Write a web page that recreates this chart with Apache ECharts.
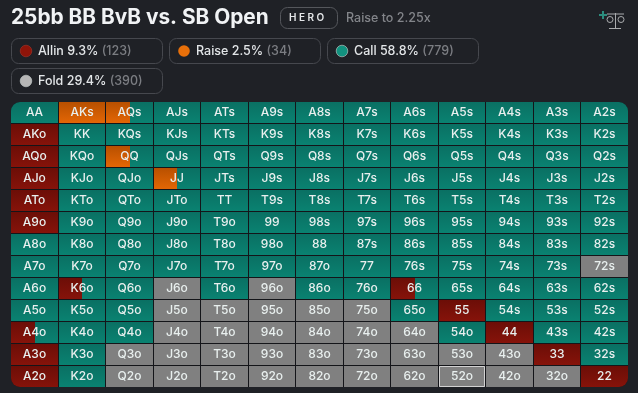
<!DOCTYPE html>
<html>
<head>
<meta charset="utf-8">
<style>
  html, body { margin: 0; padding: 0; background: #1f2126; }
  #chart { width: 638px; height: 393px; }
</style>
<script src="https://cdn.jsdelivr.net/npm/echarts@6/dist/echarts.min.js"></script>
</head>
<body>
<div id="chart"></div>
<script>
const ranks = ['A', 'K', 'Q', 'J', 'T', '9', '8', '7', '6', '5', '4', '3', '2'];

const actionNames = ['Allin', 'Raise', 'Call', 'Fold'];
const actionPct = ['9.3%', '2.5%', '58.8%', '29.4%'];
const actionCounts = ['(123)', '(34)', '(779)', '(390)'];

// share of each hand per action, rows and columns in rank order
const allinShare = [
  [0, 0, 0, 0, 0, 0, 0, 0, 0, 0, 0, 0, 0],
  [100, 0, 0, 0, 0, 0, 0, 0, 0, 0, 0, 0, 0],
  [100, 0, 0, 0, 0, 0, 0, 0, 0, 0, 0, 0, 0],
  [100, 0, 0, 0, 0, 0, 0, 0, 0, 0, 0, 0, 0],
  [100, 0, 0, 0, 0, 0, 0, 0, 0, 0, 0, 0, 0],
  [100, 0, 0, 0, 0, 0, 0, 0, 0, 0, 0, 0, 0],
  [0, 0, 0, 0, 0, 0, 0, 0, 0, 0, 0, 0, 0],
  [0, 0, 0, 0, 0, 0, 0, 0, 0, 0, 0, 0, 0],
  [0, 50, 0, 0, 0, 0, 0, 0, 50, 0, 0, 0, 0],
  [0, 0, 0, 0, 0, 0, 0, 0, 0, 100, 0, 0, 0],
  [50, 0, 0, 0, 0, 0, 0, 0, 0, 0, 100, 0, 0],
  [100, 0, 0, 0, 0, 0, 0, 0, 0, 0, 0, 100, 0],
  [100, 0, 0, 0, 0, 0, 0, 0, 0, 0, 0, 0, 100]
];
const raiseShare = [
  [0, 100, 50, 0, 0, 0, 0, 0, 0, 0, 0, 0, 0],
  [0, 0, 0, 0, 0, 0, 0, 0, 0, 0, 0, 0, 0],
  [0, 0, 50, 0, 0, 0, 0, 0, 0, 0, 0, 0, 0],
  [0, 0, 0, 50, 0, 0, 0, 0, 0, 0, 0, 0, 0],
  [0, 0, 0, 0, 0, 0, 0, 0, 0, 0, 0, 0, 0],
  [0, 0, 0, 0, 0, 0, 0, 0, 0, 0, 0, 0, 0],
  [0, 0, 0, 0, 0, 0, 0, 0, 0, 0, 0, 0, 0],
  [0, 0, 0, 0, 0, 0, 0, 0, 0, 0, 0, 0, 0],
  [0, 0, 0, 0, 0, 0, 0, 0, 0, 0, 0, 0, 0],
  [0, 0, 0, 0, 0, 0, 0, 0, 0, 0, 0, 0, 0],
  [0, 0, 0, 0, 0, 0, 0, 0, 0, 0, 0, 0, 0],
  [0, 0, 0, 0, 0, 0, 0, 0, 0, 0, 0, 0, 0],
  [0, 0, 0, 0, 0, 0, 0, 0, 0, 0, 0, 0, 0]
];
const callShare = [
  [100, 0, 50, 100, 100, 100, 100, 100, 100, 100, 100, 100, 100],
  [0, 100, 100, 100, 100, 100, 100, 100, 100, 100, 100, 100, 100],
  [0, 100, 50, 100, 100, 100, 100, 100, 100, 100, 100, 100, 100],
  [0, 100, 100, 50, 100, 100, 100, 100, 100, 100, 100, 100, 100],
  [0, 100, 100, 100, 100, 100, 100, 100, 100, 100, 100, 100, 100],
  [0, 100, 100, 100, 100, 100, 100, 100, 100, 100, 100, 100, 100],
  [100, 100, 100, 100, 100, 100, 100, 100, 100, 100, 100, 100, 100],
  [100, 100, 100, 100, 100, 100, 100, 100, 100, 100, 100, 100, 0],
  [100, 50, 100, 0, 100, 0, 100, 100, 50, 100, 100, 100, 100],
  [100, 100, 100, 0, 0, 0, 0, 0, 100, 0, 100, 100, 100],
  [50, 100, 100, 0, 0, 0, 0, 0, 0, 100, 0, 100, 100],
  [0, 100, 0, 0, 0, 0, 0, 0, 0, 0, 0, 0, 100],
  [0, 100, 0, 0, 0, 0, 0, 0, 0, 0, 0, 0, 0]
];
const foldShare = [
  [0, 0, 0, 0, 0, 0, 0, 0, 0, 0, 0, 0, 0],
  [0, 0, 0, 0, 0, 0, 0, 0, 0, 0, 0, 0, 0],
  [0, 0, 0, 0, 0, 0, 0, 0, 0, 0, 0, 0, 0],
  [0, 0, 0, 0, 0, 0, 0, 0, 0, 0, 0, 0, 0],
  [0, 0, 0, 0, 0, 0, 0, 0, 0, 0, 0, 0, 0],
  [0, 0, 0, 0, 0, 0, 0, 0, 0, 0, 0, 0, 0],
  [0, 0, 0, 0, 0, 0, 0, 0, 0, 0, 0, 0, 0],
  [0, 0, 0, 0, 0, 0, 0, 0, 0, 0, 0, 0, 100],
  [0, 0, 0, 100, 0, 100, 0, 0, 0, 0, 0, 0, 0],
  [0, 0, 0, 100, 100, 100, 100, 100, 0, 0, 0, 0, 0],
  [0, 0, 0, 100, 100, 100, 100, 100, 100, 0, 0, 0, 0],
  [0, 0, 100, 100, 100, 100, 100, 100, 100, 100, 100, 0, 0],
  [0, 0, 100, 100, 100, 100, 100, 100, 100, 100, 100, 100, 0]
];
const selectedHand = '52o';

const FONT = 'Inter, "Noto Sans", sans-serif';
const BG = '#1f2126';
const GAP = '#141519';
const RADIUS = 9;

const fills = [
  ['#6c0e07', '#86130a'],
  ['#b85000', '#e36605'],
  ['#0a7063', '#0a8271'],
  ['#808080', '#808080']
];
const dotColors = ['#8e1409', '#e8700a', '#12927f', '#b6b6b6'];

function handName(row, col) {
  if (row === col) return ranks[row] + ranks[col];
  return row < col ? ranks[row] + ranks[col] + 's' : ranks[col] + ranks[row] + 'o';
}

const cells = [];
ranks.forEach((_, row) => {
  ranks.forEach((_, col) => {
    cells.push([col, row, allinShare[row][col], raiseShare[row][col], callShare[row][col], foldShare[row][col], handName(row, col)]);
  });
});

function renderCell(params, api) {
  const col = api.value(0);
  const row = api.value(1);
  const shares = [api.value(2), api.value(3), api.value(4), api.value(5)];
  const hand = api.value(6);
  const mid = api.coord([col, row]);
  const band = api.size([1, 1]);

  const left = Math.round(mid[0] - band[0] / 2);
  const right = Math.round(mid[0] + band[0] / 2) - 1;
  const top = Math.round(mid[1] - band[1] / 2);
  const bottom = Math.round(mid[1] + band[1] / 2) - 1;
  const w = right - left;
  const h = bottom - top;

  // only the four outer corners of the matrix are rounded
  const tl = row === 0 && col === 0 ? RADIUS : 0;
  const tr = row === 0 && col === 12 ? RADIUS : 0;
  const br = row === 12 && col === 12 ? RADIUS : 0;
  const bl = row === 12 && col === 0 ? RADIUS : 0;

  const children = [{
    type: 'rect',
    shape: {
      x: left - (col > 0 ? 1 : 0),
      y: top - (row > 0 ? 1 : 0),
      width: w + (col > 0 ? 1 : 0),
      height: h + (row > 0 ? 1 : 0),
      r: [tl, tr, br, bl]
    },
    style: { fill: GAP }
  }];

  let x = left;
  const used = shares.map((s, i) => [s, i]).filter(d => d[0] > 0);
  used.forEach((d, n) => {
    const segW = n === used.length - 1 ? left + w - x : Math.round(w * d[0] / 100);
    children.push({
      type: 'rect',
      shape: {
        x: x,
        y: top,
        width: segW,
        height: h,
        r: [n === 0 ? tl : 0, n === used.length - 1 ? tr : 0, n === used.length - 1 ? br : 0, n === 0 ? bl : 0]
      },
      style: {
        fill: new echarts.graphic.LinearGradient(0, 0, 0, 1, [
          { offset: 0, color: fills[d[1]][0] },
          { offset: 1, color: fills[d[1]][1] }
        ])
      }
    });
    x += segW;
  });

  if (hand === selectedHand) {
    children.push({
      type: 'rect',
      shape: { x: left + 0.5, y: top + 0.5, width: w - 1, height: h - 1 },
      style: { fill: 'none', stroke: '#d2d2d2', lineWidth: 1 }
    });
  }

  children.push({
    type: 'text',
    style: {
      x: left + w / 2,
      y: top + h / 2,
      text: hand,
      align: 'center',
      verticalAlign: 'middle',
      fill: '#e8efee',
      font: '500 12px ' + FONT
    }
  });

  return { type: 'group', children: children };
}

// chips for the action totals
const chipSlots = [[11, 38], [169, 38], [327, 38], [11, 68]];
const legendGraphics = [];
actionNames.forEach((name, i) => {
  const pos = chipSlots[i];
  legendGraphics.push({
    type: 'rect',
    shape: { x: pos[0] + 0.5, y: pos[1] + 0.5, width: 151, height: 25, r: 7 },
    style: { fill: 'none', stroke: '#46484e', lineWidth: 1 }
  });
  legendGraphics.push({
    type: 'circle',
    shape: { cx: pos[0] + 15, cy: pos[1] + 13, r: 5.8 },
    style: { fill: dotColors[i], stroke: i === 0 ? '#a8362a' : '#c9d2d0', lineWidth: i === 1 ? 0 : 0.6 }
  });
  legendGraphics.push({
    type: 'text',
    style: {
      x: pos[0] + 27,
      y: pos[1] + 13,
      verticalAlign: 'middle',
      text: '{a|' + name + ' ' + actionPct[i] + '} {b|' + actionCounts[i] + '}',
      rich: {
        a: { fill: '#e3e6e8', font: '500 12.5px ' + FONT },
        b: { fill: '#7b7d82', font: '500 12.5px ' + FONT }
      }
    }
  });
});

const headerGraphics = [
  {
    type: 'text',
    style: { x: 11, y: 18, verticalAlign: 'middle', text: '25bb BB BvB vs. SB Open', fill: '#f1f3f5', font: '700 20.8px ' + FONT }
  },
  {
    type: 'rect',
    shape: { x: 280.5, y: 7.5, width: 57, height: 21, r: 7 },
    style: { fill: 'none', stroke: '#55575c', lineWidth: 1 }
  },
  {
    type: 'text',
    style: { x: 289, y: 18, verticalAlign: 'middle', text: 'H E R O', fill: '#e4e6e8', font: '600 10px ' + FONT }
  },
  {
    type: 'text',
    style: { x: 346, y: 18, verticalAlign: 'middle', text: 'Raise to 2.25x', fill: '#83858a', font: '500 12.5px ' + FONT }
  },
  // add-to-compare icon: plus and balance scale
  { type: 'line', shape: { x1: 599, y1: 15, x2: 607, y2: 15 }, style: { stroke: '#2c8d7e', lineWidth: 2 } },
  { type: 'line', shape: { x1: 603, y1: 11, x2: 603, y2: 19 }, style: { stroke: '#2c8d7e', lineWidth: 2 } },
  { type: 'line', shape: { x1: 615.5, y1: 13, x2: 615.5, y2: 28 }, style: { stroke: '#a9abad', lineWidth: 1 } },
  { type: 'line', shape: { x1: 609, y1: 28.5, x2: 621, y2: 28.5 }, style: { stroke: '#a9abad', lineWidth: 1 } },
  { type: 'line', shape: { x1: 607, y1: 14, x2: 624, y2: 14 }, style: { stroke: '#a9abad', lineWidth: 1 } },
  { type: 'circle', shape: { cx: 610, cy: 19.5, r: 3 }, style: { fill: 'none', stroke: '#a9abad', lineWidth: 1 } },
  { type: 'circle', shape: { cx: 621, cy: 19.5, r: 3 }, style: { fill: 'none', stroke: '#a9abad', lineWidth: 1 } }
];

const chart = echarts.init(document.getElementById('chart'), null, { renderer: 'canvas' });

chart.setOption({
  animation: false,
  backgroundColor: BG,
  tooltip: { show: false },
  grid: { left: 11, top: 102, width: 618, height: 286 },
  xAxis: { type: 'category', data: ranks, show: false },
  yAxis: { type: 'category', data: ranks, inverse: true, show: false },
  graphic: headerGraphics.concat(legendGraphics),
  series: [{
    type: 'custom',
    coordinateSystem: 'cartesian2d',
    silent: true,
    renderItem: renderCell,
    encode: { x: 0, y: 1 },
    data: cells
  }]
});
</script>
</body>
</html>
